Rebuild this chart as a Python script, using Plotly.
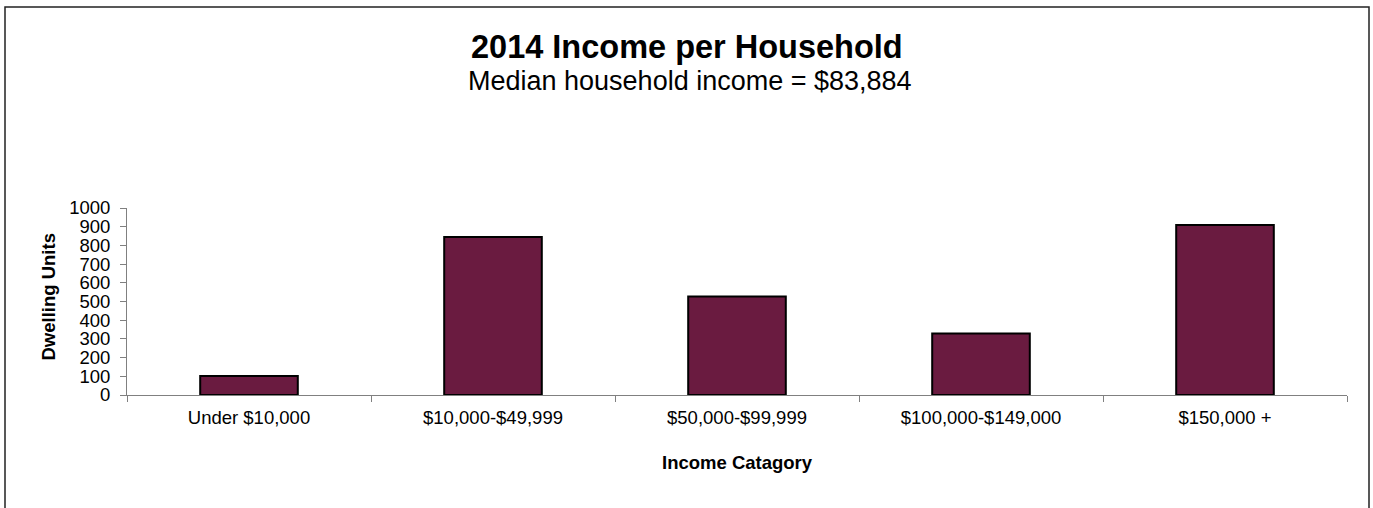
import plotly.graph_objects as go

# Household income distribution, 2014
categories = ["Under $10,000", "$10,000-$49,999", "$50,000-$99,999",
              "$100,000-$149,000", "$150,000 +"]
dwelling_units = [102, 845, 527, 329, 909]
y_ticks = [0, 100, 200, 300, 400, 500, 600, 700, 800, 900, 1000]

title_text = "<b>2014 Income per Household</b>"
subtitle_text = "Median household income = $83,884"
x_title = "<b>Income Catagory</b>"
y_title = "<b>Dwelling Units</b>"

W, H = 1373, 508
L, R, T, B = 127, 26, 208, 113
PW, PH = W - L - R, H - T - B

def px_x(x):
    return (x - L) / PW

def px_y(y):
    return (H - B - y) / PH

FONT = "Liberation Sans, Arial, sans-serif"

fig = go.Figure(go.Bar(
    x=categories,
    y=dwelling_units,
    marker=dict(color="#6A1B40", line=dict(color="#000000", width=2)),
    width=0.4,
))

fig.update_layout(
    width=W, height=H,
    margin=dict(l=L, r=R, t=T, b=B, pad=0),
    paper_bgcolor="white",
    plot_bgcolor="white",
    showlegend=False,
    font=dict(family=FONT, color="#000000", size=18),
    xaxis=dict(
        type="category",
        showgrid=False,
        showline=True, linecolor="#808080", linewidth=1,
        ticks="outside", tickson="boundaries", ticklen=6, tickcolor="#808080",
        tickfont=dict(size=18.5),
        ticklabelstandoff=6,
        range=[-0.5, 4.5],
    ),
    yaxis=dict(
        range=[0, 1000],
        tickvals=y_ticks,
        showgrid=False, zeroline=False,
        showline=True, linecolor="#808080", linewidth=1,
        ticks="outside", ticklen=6, tickcolor="#808080",
        tickfont=dict(size=18.5),
        ticklabelstandoff=6,
    ),
    shapes=[dict(
        type="rect", xref="paper", yref="paper",
        x0=px_x(5), x1=px_x(1369), y0=px_y(530), y1=px_y(7),
        line=dict(color="#222222", width=1.5), fillcolor="rgba(0,0,0,0)",
        layer="below",
    )],
    annotations=[
        dict(text=title_text, xref="paper", yref="paper",
             x=px_x(687), y=px_y(47), xanchor="center", yanchor="middle",
             showarrow=False, font=dict(size=32.5, family=FONT)),
        dict(text=subtitle_text, xref="paper", yref="paper",
             x=px_x(690), y=px_y(81), xanchor="center", yanchor="middle",
             showarrow=False, font=dict(size=27, family=FONT)),
        dict(text=x_title, xref="paper", yref="paper",
             x=0.5, y=px_y(462), xanchor="center", yanchor="middle",
             showarrow=False, font=dict(size=18.5, family=FONT)),
        dict(text=y_title, xref="paper", yref="paper",
             x=px_x(47.5), y=px_y(297), xanchor="center", yanchor="middle",
             textangle=-90, showarrow=False, font=dict(size=18.5, family=FONT)),
    ],
)

fig.write_html("out.html")
